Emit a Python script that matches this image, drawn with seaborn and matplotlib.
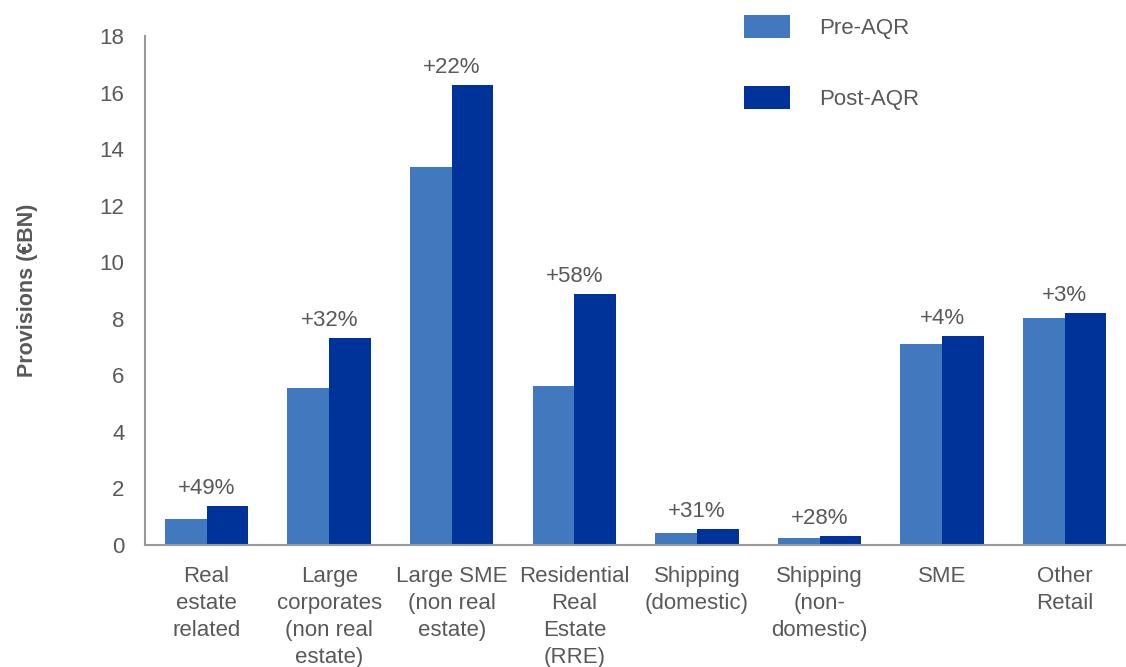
import matplotlib
matplotlib.use("Agg")
import matplotlib.pyplot as plt
import seaborn as sns
import pandas as pd

# data
categories = ["Real\nestate\nrelated", "Large\ncorporates\n(non real\nestate)", "Large SME\n(non real\nestate)",
              "Residential\nReal\nEstate\n(RRE)", "Shipping\n(domestic)", "Shipping\n(non-\ndomestic)",
              "SME", "Other\nRetail"]
pre_aqr = [0.92, 5.55, 13.37, 5.62, 0.42, 0.25, 7.11, 8.03]
post_aqr = [1.38, 7.32, 16.27, 8.88, 0.57, 0.32, 7.39, 8.20]
change_labels = ["+49%", "+32%", "+22%", "+58%", "+31%", "+28%", "+4%", "+3%"]
series = ["Pre-AQR", "Post-AQR"]

TEXT = "#595959"
COLORS = {"Pre-AQR": "#4178BE", "Post-AQR": "#003399"}
FS = 16

df = pd.DataFrame({
    "Category": categories * 2,
    "Series": [series[0]] * len(categories) + [series[1]] * len(categories),
    "Value": pre_aqr + post_aqr,
})

sns.set_style("white")
plt.rcParams["font.family"] = ["Liberation Sans", "DejaVu Sans"]

fig = plt.figure(figsize=(11.26, 6.67), dpi=100)
ax = fig.add_axes([0.129, 0.183, 0.871, 0.763])

sns.barplot(data=df, x="Category", y="Value", hue="Series", palette=COLORS,
            width=0.68, gap=0, saturation=1, linewidth=0, ax=ax, legend=True)

for i, (lbl, v) in enumerate(zip(change_labels, post_aqr)):
    ax.annotate(lbl, (i, v), xytext=(0, 5), textcoords="offset points",
                ha="center", va="bottom", fontsize=FS, color=TEXT)

ax.set_ylim(0, 18)
ax.set_xlim(-0.5, len(categories) - 0.5)
ax.set_yticks(range(0, 19, 2))
ax.set_xlabel("")
ax.set_ylabel("Provisions (€BN)", fontsize=15.5, fontweight="bold", color=TEXT, labelpad=44)
ax.tick_params(axis="both", length=0, labelsize=FS, colors=TEXT)
ax.tick_params(axis="y", pad=15)
ax.tick_params(axis="x", pad=15)
for lab in ax.get_xticklabels():
    lab.set_linespacing(1.38)
ax.spines[["top", "right"]].set_visible(False)
ax.spines[["left", "bottom"]].set_color("#999999")
ax.spines[["left", "bottom"]].set_linewidth(1.5)

handles, labels = ax.get_legend_handles_labels()
ax.legend(handles, labels, loc="upper left", bbox_to_anchor=(0.661, 0.9775),
          bbox_transform=fig.transFigure, frameon=False, fontsize=FS,
          handlelength=2.05, handleheight=1.23, labelspacing=2.1, handletextpad=1.3,
          borderpad=0, borderaxespad=0, labelcolor=TEXT)

plt.savefig("out.png", dpi=100)
plt.close()
